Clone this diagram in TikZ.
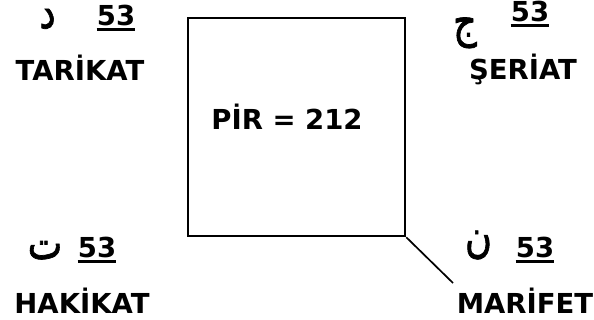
\documentclass[tikz,border=0pt]{standalone}
\usepackage{fontspec}
\setmainfont{DejaVu Sans}
\newfontfamily\arabicfont[Script=Arabic,FakeBold=1.6]{DejaVu Sans}
\TeXXeTstate=1
\newcommand\arglyph[1]{\scalebox{0.8}[1]{\arabicfont\beginR #1\endR}}
\begin{document}
\begin{tikzpicture}[x=1pt,y=-1pt,
  lbl/.style={inner sep=0pt,anchor=base,font=\fontsize{27.5}{32}\selectfont\bfseries},
  num/.style={inner sep=0pt,anchor=base,font=\fontsize{27.5}{32}\selectfont\bfseries},
  ar/.style={inner sep=0pt,anchor=base,font=\fontsize{46}{52}\selectfont},
  ul/.style={line width=2.6pt},
  boxstyle/.style={draw,line width=2.6pt,minimum width=217pt,minimum height=218pt,inner sep=0pt}]
\useasboundingbox (0,0) rectangle (594,320);
\node[boxstyle] (pir) at (296.5,127) {};
\node[lbl] (pirtxt) at (287,130) {PİR = 212};
\coordinate (tail) at (453,283);
\draw[line width=1.7pt] (pir.south east) -- (tail);
% top-left
\node[ar] (dal) at (47.5,28) {\arglyph{د}};
\node[num] (n1) at (116,25.5) {53};
\draw[ul] ([yshift=-4pt]n1.base west) -- ([yshift=-4pt]n1.base east);
\node[lbl] (tarikat) at (80,81) {TARİKAT};
% top-right
\node[ar] (jim) at (465,37) {\arglyph{ج}};
\node[num] (n2) at (530,21.5) {53};
\draw[ul] ([yshift=-4pt]n2.base west) -- ([yshift=-4pt]n2.base east);
\node[lbl] (seriat) at (523,80) {ŞERİAT};
% bottom-left
\node[ar] (te) at (45,259) {\arglyph{ت}};
\node[num] (n3) at (97,258) {53};
\draw[ul] ([yshift=-3.5pt]n3.base west) -- ([yshift=-3.5pt]n3.base east);
\node[lbl] (hakikat) at (82,313) {HAKİKAT};
% bottom-right
\node[ar] (nun) at (478.5,252) {\arglyph{ن}};
\node[num] (n4) at (535,258) {53};
\draw[ul] ([yshift=-3.5pt]n4.base west) -- ([yshift=-3.5pt]n4.base east);
\node[lbl] (marifet) at (525,313) {MARİFET};
\end{tikzpicture}
\end{document}
